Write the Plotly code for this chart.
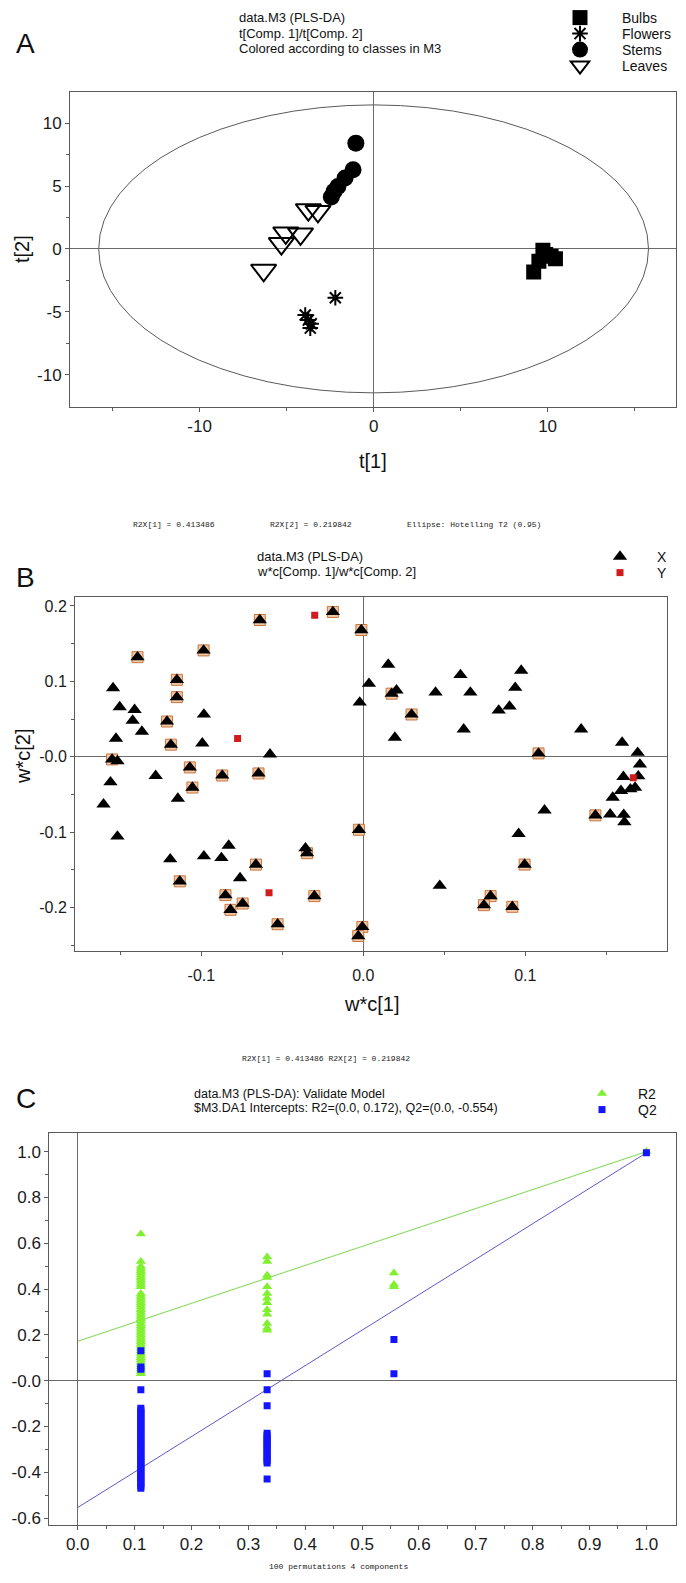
import plotly.graph_objects as go

W, H = 686, 1583

# ---------------- Panel A: scores t[1]/t[2] ----------------
bulbs_t1 = [9.73, 10.45, 9.50, 9.20, 9.89, 10.20]
bulbs_t2 = [-0.10, -0.79, -0.98, -1.83, -0.45, -0.58]
flowers_t1 = [-2.20, -3.93, -3.75, -3.59, -3.64]
flowers_t2 = [-3.89, -5.26, -5.66, -5.95, -6.30]
stems_t1 = [-1.02, -1.18, -1.64, -2.05, -2.27, -2.43]
stems_t2 = [8.41, 6.30, 5.63, 4.97, 4.58, 4.13]
leaves_t1 = [-3.75, -3.20, -5.05, -4.20, -5.30, -6.32]
leaves_t2 = [3.12, 2.98, 1.27, 1.19, 0.42, -1.70]
ellipse_t1, ellipse_t2 = 15.8, 11.45  # Hotelling T2 (0.95) semi-axes

# ---------------- Panel B: loadings w*c[1]/w*c[2] ----------------
xhl_w1 = [-0.0639, -0.0188, -0.0012, -0.1394, -0.0986, -0.1151, -0.1151, -0.1212, -0.1188,
          -0.1551, -0.1071, -0.1055, -0.0871, -0.0647, -0.0027, -0.0347, -0.0663, -0.1133,
          -0.0851, -0.0820, -0.0745, -0.0529, -0.0302, -0.0006, -0.0031, 0.0175, 0.0298,
          0.1082, 0.1433, 0.0996, 0.0786, 0.0745, 0.0920]
xhl_w2 = [0.1813, 0.1920, 0.1680, 0.1320, 0.1410, 0.1020, 0.0790, 0.0467, 0.0160,
          -0.0036, -0.0142, -0.0409, -0.0249, -0.0222, -0.0969, -0.1280, -0.1431, -0.1653,
          -0.1836, -0.2031, -0.1947, -0.2222, -0.1849, -0.2258, -0.2378, 0.0836, 0.0560,
          0.0044, -0.0778, -0.1431, -0.1849, -0.1969, -0.1991]
xpl_w1 = [-0.1545, -0.1504, -0.1412, -0.1424, -0.1367, -0.1527, -0.1518, -0.1561, -0.1604,
          -0.1518, -0.1282, -0.1145, -0.0984, -0.0994, -0.0576, -0.1192, -0.0984, -0.0876,
          -0.0831, -0.0761, -0.0357, -0.0022, 0.0035, 0.0154, 0.0205, 0.0195, 0.0446,
          0.0600, 0.0661, 0.0620, 0.0975, 0.0938, 0.0903, 0.0836, 0.1345, 0.1598, 0.1694,
          0.1708, 0.1698, 0.1606, 0.1678, 0.1649, 0.1591, 0.1540, 0.1524, 0.1608, 0.1612,
          0.1119, 0.0959, 0.0472]
xpl_w2 = [0.0911, 0.0658, 0.0622, 0.0480, 0.0333, 0.0240, -0.0058, -0.0338, -0.0631,
          -0.1058, -0.0253, -0.0556, 0.0560, 0.0178, 0.0031, -0.1360, -0.1320, -0.1342,
          -0.1178, -0.1609, -0.1213, 0.0720, 0.0969, 0.1222, 0.0880, 0.0253, 0.0853,
          0.1084, 0.0853, 0.0364, 0.1142, 0.0916, 0.0667, 0.0613, 0.0364, 0.0187, 0.0053,
          -0.0102, -0.0258, -0.0267, -0.0409, -0.0431, -0.0453, -0.0542, -0.0764, -0.0769,
          -0.0867, -0.0711, -0.1022, -0.1711]
y_w1 = [-0.0300, -0.0776, -0.0582, 0.1667]
y_w2 = [0.1876, 0.0240, -0.1804, -0.0280]

# ---------------- Panel C: permutation test ----------------
r2_x1 = 0.111
r2_col1 = [0.64, 0.52, 0.50, 0.49, 0.48, 0.47, 0.46, 0.45, 0.44, 0.43, 0.42, 0.41,
           0.38, 0.37, 0.36, 0.35, 0.34, 0.33, 0.32, 0.31, 0.30, 0.29, 0.28, 0.27,
           0.26, 0.25, 0.24, 0.23, 0.22, 0.21, 0.20, 0.19, 0.18, 0.17, 0.16, 0.15,
           0.14, 0.13, 0.12, 0.11, 0.10, 0.09, 0.08, 0.07, 0.06, 0.05, 0.04, 0.03]
q2_col1 = [0.13, 0.06, 0.05, -0.04, -0.12, -0.13, -0.14, -0.15, -0.16, -0.17, -0.18,
           -0.19, -0.20, -0.21, -0.22, -0.23, -0.24, -0.25, -0.26, -0.27, -0.28, -0.29,
           -0.30, -0.31, -0.32, -0.33, -0.34, -0.35, -0.36, -0.37, -0.38, -0.39, -0.40,
           -0.41, -0.42, -0.43, -0.44, -0.45, -0.46, -0.47]
r2_x2 = 0.333
r2_col2 = [0.54, 0.52, 0.46, 0.45, 0.41, 0.38, 0.36, 0.34, 0.31, 0.29, 0.25, 0.23, 0.22]
q2_col2 = [0.03, -0.04, -0.11, -0.23, -0.24, -0.25, -0.26, -0.27, -0.28, -0.29, -0.30,
           -0.31, -0.32, -0.33, -0.34, -0.35, -0.36, -0.43]
r2_x3 = 0.556
r2_col3 = [0.47, 0.42, 0.41]
q2_col3 = [0.18, 0.03]
orig_x = 1.0
r2_orig, q2_orig = 1.0, 0.995
line_x = [0.0, 1.0]
r2_line = [0.172, 1.0]
q2_line = [-0.554, 0.995]

FONT = "Liberation Sans, Arial, sans-serif"
MONO = "Liberation Mono, Courier New, monospace"


def px_x(p):
    return p / W


def px_y(p):
    return 1 - p / H


fig = go.Figure()

# ---- Panel A traces
fig.add_trace(go.Scatter(x=bulbs_t1, y=bulbs_t2, mode="markers", name="Bulbs",
                         marker=dict(symbol="square", size=15, color="black"),
                         xaxis="x", yaxis="y", legend="legend"))
fig.add_trace(go.Scatter(x=flowers_t1, y=flowers_t2, mode="markers", name="Flowers",
                         marker=dict(symbol="asterisk-open", size=13, color="black",
                                     line=dict(color="black", width=2)),
                         xaxis="x", yaxis="y", legend="legend2"))
fig.add_trace(go.Scatter(x=stems_t1, y=stems_t2, mode="markers", name="Stems",
                         marker=dict(symbol="circle", size=17, color="black"),
                         xaxis="x", yaxis="y", legend="legend3"))
fig.add_trace(go.Scatter(x=leaves_t1, y=leaves_t2, mode="markers", name="Leaves",
                         marker=dict(symbol="triangle-down-open", size=22, color="black",
                                     line=dict(color="black", width=2)),
                         xaxis="x", yaxis="y", legend="legend4"))

# ---- Panel B traces
fig.add_trace(go.Scatter(x=xhl_w1, y=xhl_w2, mode="markers", showlegend=False,
                         marker=dict(symbol="square", size=11, color="#f2c9a6",
                                     line=dict(color="#c8743c", width=1)),
                         xaxis="x2", yaxis="y2"))
fig.add_trace(go.Scatter(x=xpl_w1 + xhl_w1, y=xpl_w2 + xhl_w2, mode="markers", name="X",
                         marker=dict(symbol="triangle-up", size=12.5, color="black"),
                         xaxis="x2", yaxis="y2", legend="legend5"))
fig.add_trace(go.Scatter(x=y_w1, y=y_w2, mode="markers", name="Y",
                         marker=dict(symbol="square", size=7, color="#d01c1c"),
                         xaxis="x2", yaxis="y2", legend="legend6"))

# ---- Panel C traces
fig.add_trace(go.Scatter(x=line_x, y=r2_line, mode="lines", showlegend=False,
                         line=dict(color="#7ad84a", width=1), xaxis="x3", yaxis="y3"))
fig.add_trace(go.Scatter(x=line_x, y=q2_line, mode="lines", showlegend=False,
                         line=dict(color="#5a5ac8", width=1), xaxis="x3", yaxis="y3"))
r2_x = [r2_x1] * len(r2_col1) + [r2_x2] * len(r2_col2) + [r2_x3] * len(r2_col3) + [orig_x]
r2_y = r2_col1 + r2_col2 + r2_col3 + [r2_orig]
q2_x = [r2_x1] * len(q2_col1) + [r2_x2] * len(q2_col2) + [r2_x3] * len(q2_col3) + [orig_x]
q2_y = q2_col1 + q2_col2 + q2_col3 + [q2_orig]
fig.add_trace(go.Scatter(x=r2_x, y=r2_y, mode="markers", name="R2",
                         marker=dict(symbol="triangle-up", size=9, color="#80f030"),
                         xaxis="x3", yaxis="y3", legend="legend7"))
fig.add_trace(go.Scatter(x=q2_x, y=q2_y, mode="markers", name="Q2",
                         marker=dict(symbol="square", size=7, color="#1414ff"),
                         xaxis="x3", yaxis="y3", legend="legend8"))

axis_common = dict(showgrid=False, showline=True, mirror=True, linecolor="#5a5a5a",
                   linewidth=1, ticks="outside", ticklen=4, tickcolor="#5a5a5a",
                   zeroline=True, zerolinecolor="#6a6a6a", zerolinewidth=1,
                   automargin=False, fixedrange=True)


def tfont(size):
    return dict(family=FONT, size=size, color="#1a1a1a")


minor_common = dict(ticks="outside", ticklen=3, tickcolor="#5a5a5a")

layout = dict(
    width=W, height=H, margin=dict(l=0, r=0, t=0, b=0),
    paper_bgcolor="white", plot_bgcolor="white",
    xaxis=dict(axis_common, domain=[px_x(70), px_x(676)], range=[-17.45, 17.38],
               tickvals=[-10, 0, 10], ticktext=["-10", "0", "10"], tickfont=tfont(17),
               minor=dict(minor_common, tickvals=[-15, -5, 5, 15]), anchor="y"),
    yaxis=dict(axis_common, domain=[px_y(406.7), px_y(91.7)], range=[-12.55, 12.5],
               tickvals=[-10, -5, 0, 5, 10], ticktext=["-10", "-5", "0", "5", "10"],
               tickfont=tfont(17), minor=dict(minor_common, tickvals=[-7.5, -2.5, 2.5, 7.5]),
               anchor="x"),
    xaxis2=dict(axis_common, domain=[px_x(75), px_x(667.3)], range=[-0.178, 0.1877],
                tickvals=[-0.1, 0.0, 0.1], ticktext=["-0.1", "0.0", "0.1"], tickfont=tfont(16),
                ticklabelstandoff=6,
                minor=dict(minor_common, tickvals=[-0.15, -0.05, 0.05, 0.15]), anchor="y2"),
    yaxis2=dict(axis_common, domain=[px_y(950.7), px_y(596.7)], range=[-0.2573, 0.2122],
                tickvals=[-0.2, -0.1, 0.0, 0.1, 0.2],
                ticktext=["-0.2", "-0.1", "-0.0", "0.1", "0.2"], tickfont=tfont(16),
                minor=dict(minor_common, tickvals=[-0.25, -0.15, -0.05, 0.05, 0.15]),
                anchor="x2"),
    xaxis3=dict(axis_common, domain=[px_x(49.3), px_x(676)], range=[-0.05, 1.052],
                tickvals=[0.0, 0.1, 0.2, 0.3, 0.4, 0.5, 0.6, 0.7, 0.8, 0.9, 1.0],
                ticktext=["0.0", "0.1", "0.2", "0.3", "0.4", "0.5", "0.6", "0.7", "0.8",
                          "0.9", "1.0"], tickfont=tfont(17),
                minor=dict(minor_common, tickvals=[0.05, 0.15, 0.25, 0.35, 0.45, 0.55,
                                                   0.65, 0.75, 0.85, 0.95]), anchor="y3"),
    yaxis3=dict(axis_common, domain=[px_y(1524.7), px_y(1133.3)], range=[-0.629, 1.08],
                tickvals=[-0.6, -0.4, -0.2, 0.0, 0.2, 0.4, 0.6, 0.8, 1.0],
                ticktext=["-0.6", "-0.4", "-0.2", "-0.0", "0.2", "0.4", "0.6", "0.8", "1.0"],
                tickfont=tfont(17),
                minor=dict(minor_common, tickvals=[-0.5, -0.3, -0.1, 0.1, 0.3, 0.5, 0.7, 0.9]),
                anchor="x3"),
    showlegend=True,
)


def leg(sym_x, text_x, cy, size=14):
    gap = text_x - sym_x
    itemwidth = max(30, 2 * gap - 10)
    left = sym_x - (itemwidth + 10) / 2
    return dict(x=px_x(left), y=px_y(cy), xanchor="left", yanchor="middle",
                bgcolor="rgba(0,0,0,0)", borderwidth=0, itemwidth=itemwidth,
                itemsizing="trace", font=dict(family=FONT, size=size, color="#111"),
                itemclick=False, itemdoubleclick=False)


layout["legend"] = leg(580, 622, 18)
layout["legend2"] = leg(580, 622, 34)
layout["legend3"] = leg(580, 622, 50)
layout["legend4"] = leg(580, 622, 66)
layout["legend5"] = leg(620, 657, 557)
layout["legend6"] = leg(620, 657, 573)
layout["legend7"] = leg(602, 638, 1094)
layout["legend8"] = leg(602, 638, 1110)

fig.update_layout(**layout)

# Hotelling ellipse
fig.add_shape(type="circle", xref="x", yref="y", x0=-ellipse_t1, x1=ellipse_t1,
              y0=-ellipse_t2, y1=ellipse_t2, line=dict(color="#5a5a5a", width=1),
              layer="below")


def ann(text, x, y, size, xanchor="left", family=FONT, angle=0, color="#111"):
    fig.add_annotation(text=text, x=px_x(x), y=px_y(y), xref="paper", yref="paper",
                       xanchor=xanchor, yanchor="middle", showarrow=False,
                       textangle=angle, font=dict(family=family, size=size, color=color))


# Panel labels
ann("A", 14, 44, 28)
ann("B", 14, 577, 28)
ann("C", 14, 1098, 28)

# Panel A texts
ann("data.M3 (PLS-DA)", 236.5, 18, 13)
ann("t[Comp. 1]/t[Comp. 2]", 236.5, 33.5, 13)
ann("Colored according to classes in M3", 236.5, 49, 13)
ann("t[1]", 373, 461, 20, xanchor="center")
ann("t[2]", 22, 249, 20, xanchor="center", angle=-90)
ann("R2X[1] = 0.413486", 131, 525, 8, family=MONO, color="#222")
ann("R2X[2] = 0.219842", 268, 525, 8, family=MONO, color="#222")
ann("Ellipse: Hotelling T2 (0.95)", 405, 525, 8, family=MONO, color="#222")

# Panel B texts
ann("data.M3 (PLS-DA)", 255, 556, 13)
ann("w*c[Comp. 1]/w*c[Comp. 2]", 255, 572, 13)
ann("w*c[1]", 371, 1004, 20, xanchor="center")
ann("w*c[2]", 23, 757, 20, xanchor="center", angle=-90)
ann("R2X[1] = 0.413486 R2X[2] = 0.219842", 326, 1058, 8, xanchor="center",
    family=MONO, color="#222")

# Panel C texts
ann("data.M3 (PLS-DA): Validate Model", 191.7, 1094, 12.5)
ann("$M3.DA1 Intercepts: R2=(0.0, 0.172), Q2=(0.0, -0.554)", 191.7, 1108, 12.5)
ann("100 permutations 4 components", 267, 1566, 8, family=MONO, color="#222")

fig.write_html("out.html", config={"displayModeBar": False, "staticPlot": True},
               post_script="document.body.style.margin='0';")
